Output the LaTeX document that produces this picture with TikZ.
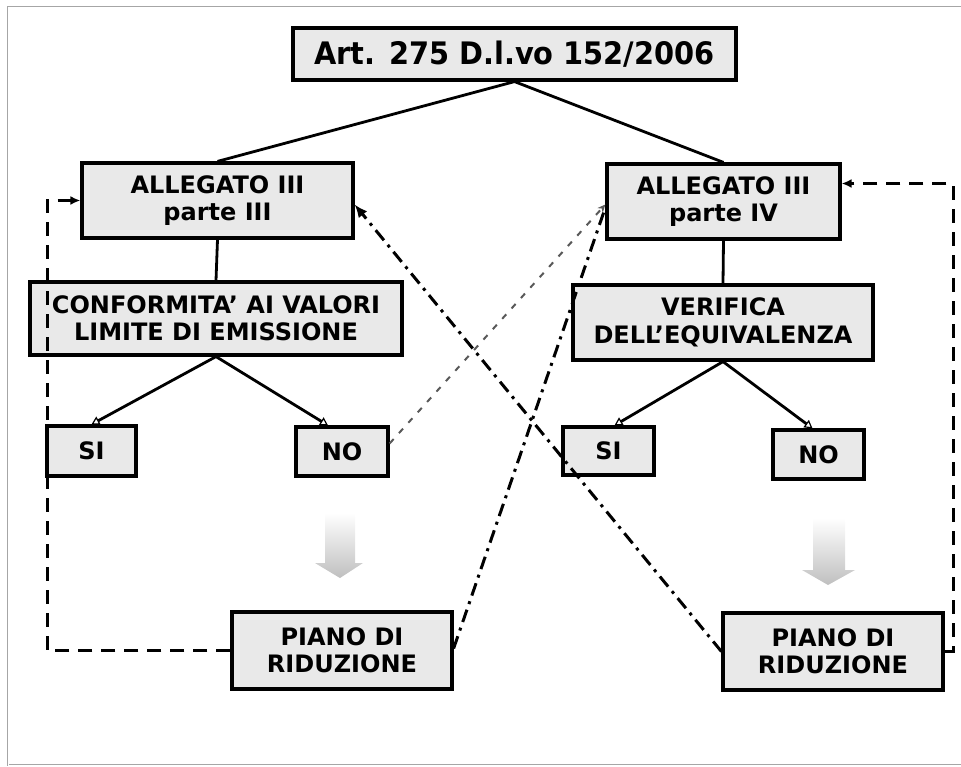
\documentclass[tikz,border=0pt]{standalone}
\usepackage{fontspec}
\setmainfont{DejaVu Sans}
\newfontfamily\boxfont{DejaVu Sans}
\newfontfamily\topfont[FakeStretch=0.93]{DejaVu Sans}
\usetikzlibrary{arrows.meta,calc}
\begin{document}
\begin{tikzpicture}[x=1pt,y=-1pt,
 box/.style={draw=black, line width=3.2pt, fill=gray!17, inner sep=0pt, align=center,
   font=\boxfont\bfseries\fontsize{24}{27.5}\selectfont},
 conn/.style={line width=2.8pt},
 tri/.style={-{Triangle[open,length=8pt,width=9pt,line width=1.2pt]}},
 loopline/.style={line width=3pt, dash pattern=on 14pt off 9pt},
 dashdot/.style={line width=3pt, dash pattern=on 13pt off 6pt on 3pt off 6pt},
 stip/.style={black!65, line width=2pt, dash pattern=on 6pt off 8pt},
 garrow/.style={top color=white, bottom color=gray!50}
]
\useasboundingbox (0,0) rectangle (961,767);
\draw[gray!70, double, line width=0.6pt] (8,7) rectangle (966,765);

% boxes
\node[box, minimum width=443pt, minimum height=52pt,
      font=\topfont\bfseries\fontsize{31}{36}\selectfont] (top) at (514.5,54) {Art. 275 D.l.vo 152/2006};
\node[box, minimum width=271pt, minimum height=75pt] (a3) at (217.5,200.5) {ALLEGATO III\\parte III};
\node[box, minimum width=233pt, minimum height=75pt] (a4) at (723.5,201.5) {ALLEGATO III\\parte IV};
\node[box, minimum width=372pt, minimum height=73pt] (conf) at (216,318.5) {CONFORMITA’ AI VALORI\\LIMITE DI EMISSIONE};
\node[box, minimum width=300pt, minimum height=75pt] (ver) at (723,322.5) {VERIFICA\\DELL’EQUIVALENZA};
\node[box, minimum width=89pt, minimum height=50pt] (siL) at (91.5,451) {SI};
\node[box, minimum width=92pt, minimum height=49pt] (noL) at (342,451.5) {NO};
\node[box, minimum width=91pt, minimum height=48pt] (siR) at (608.5,451) {SI};
\node[box, minimum width=91pt, minimum height=49pt] (noR) at (818.5,454.5) {NO};
\node[box, minimum width=220pt, minimum height=77pt] (pL) at (342,650.5) {PIANO DI\\RIDUZIONE};
\node[box, minimum width=220pt, minimum height=77pt] (pR) at (833,651.5) {PIANO DI\\RIDUZIONE};

% gray block arrows
\shade[garrow] (325,513) -- (355,513) -- (355,563) -- (363,563) -- (340,578) -- (315,563) -- (325,563) -- cycle;
\shade[garrow] (813,518) -- (845,518) -- (845,570) -- (855,570) -- (828,585) -- (802,570) -- (813,570) -- cycle;

% tree connectors
\draw[conn] (top.south) -- (a3.north);
\draw[conn] (top.south) -- (a4.north);
\draw[conn] (a3.south) -- (conf.north);
\draw[conn] (a4.south) -- (ver.north);
\draw[conn,tri] (conf.south) -- (siL.north);
\draw[conn,tri] (conf.south) -- ([xshift=-14pt]noL.north);
\draw[conn,tri] (ver.south) -- ([xshift=6pt]siR.north);
\draw[conn,tri] (ver.south) -- ([xshift=-6pt]noR.north);

% dashed feedback loops
\coordinate (lc) at (47,400);
\coordinate (rc) at (953,400);
\draw[loopline, -{Latex[length=10pt,width=9pt]}] (pL.west) -| (lc) |- (a3.west);
\draw[loopline, -{Latex[length=10pt,width=9pt]}] (pR.east) -| (rc) |- ([yshift=18pt]a4.east);

% dash-dot crossing lines
\draw[dashdot] ([yshift=2pt]pL.east) -- ([yshift=-6pt]a4.west);
\draw[dashdot, -{Latex[length=13pt,width=11pt]}] (pR.west) -- ([yshift=-4pt]a3.east);

% stippled line
\draw[stip, -{Stealth[length=8pt,width=7pt]}] ([yshift=8pt]noL.east) -- ([yshift=-3pt]a4.west);
\end{tikzpicture}
\end{document}
